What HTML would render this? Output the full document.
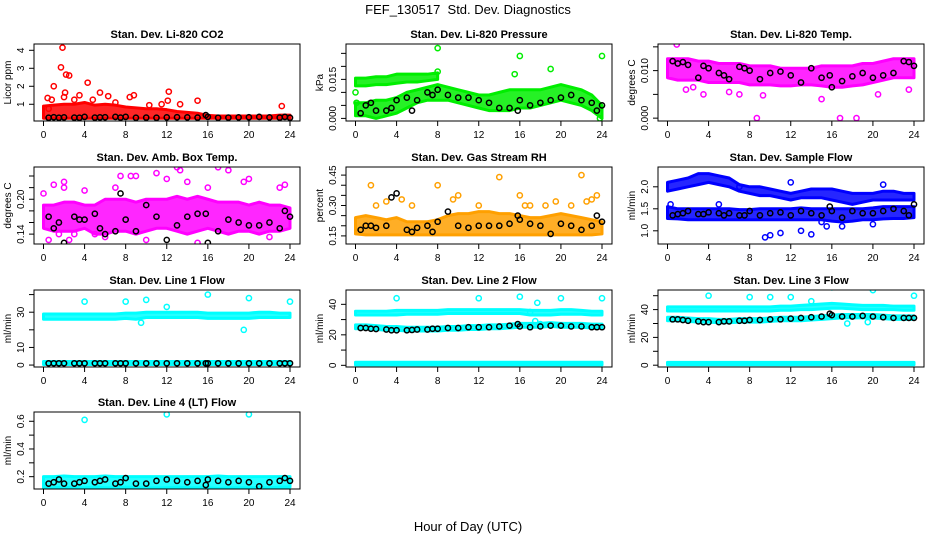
<!DOCTYPE html>
<html><head><meta charset="utf-8"><style>
html,body{margin:0;padding:0;background:#fff}
svg{display:block;font-family:"Liberation Sans",sans-serif}
</style></head><body>
<svg id="chart" width="936" height="540" viewBox="0 0 936 540">
<text x="468" y="14" text-anchor="middle" font-size="13">FEF_130517 &#160;Std. Dev. Diagnostics</text>
<text x="468" y="531" text-anchor="middle" font-size="13">Hour of Day (UTC)</text>
</svg>
<script>
// ---- data ----
const hours = [0,1,2,3,4,5,6,7,8,9,10,11,12,13,14,15,16,17,18,19,20,21,22,23,24];
const xTicks = [0,4,8,12,16,20,24];
const bx = [0.5,1,1.5,2,3,3.5,4,5,5.5,6,7,7.5,8,9,10,11,12,13,14,15,15.8,16,17,18,19,20,21,22,23,23.5,24];

const co2Lo = [0.22,0.22,0.22,0.22,0.22,0.22,0.22,0.22,0.22,0.22,0.22,0.22,0.22,0.22,0.22,0.22,0.22,0.22,0.22,0.22,0.22,0.22,0.22,0.22,0.22];
const co2Hi = [0.9,0.95,1.0,1.0,1.1,0.95,1.0,0.95,0.85,0.8,0.75,0.75,0.7,0.6,0.55,0.5,0.38,0.35,0.35,0.35,0.35,0.35,0.35,0.4,0.4];
const co2OutX = [0.4,0.8,1.0,1.7,1.85,2.0,2.1,2.2,2.5,3.5,4.3,4.8,5.5,6.3,8.4,8.8,11.5,12.2,12.1,13.3,15.0,23.2,0.5,3.0,7.0,10.3];
const co2OutY = [1.35,1.25,2.0,3.05,4.15,1.4,1.65,2.65,2.6,1.5,2.2,1.25,1.65,1.45,1.4,1.5,1.0,1.7,1.2,1.0,1.2,0.9,0.75,1.25,1.1,0.95];
const co2Blk = [0.25,0.28,0.25,0.27,0.26,0.25,0.3,0.26,0.27,0.28,0.3,0.26,0.3,0.25,0.26,0.25,0.27,0.28,0.27,0.26,0.4,0.3,0.25,0.26,0.27,0.28,0.3,0.27,0.26,0.3,0.25];

const presAX = [0,1,2,3,4,5,6,7,8];
const presALo = [0.0125,0.0125,0.013,0.013,0.0135,0.014,0.014,0.0145,0.015];
const presAHi = [0.0155,0.0155,0.016,0.016,0.017,0.017,0.017,0.017,0.0175];
const presBLo = [0.001,0.001,0.0,0.001,0.002,0.004,0.006,0.007,0.007,0.007,0.006,0.005,0.004,0.003,0.003,0.003,0.004,0.004,0.005,0.006,0.007,0.006,0.005,0.003,0.0];
const presBHi = [0.006,0.006,0.007,0.007,0.008,0.010,0.011,0.012,0.013,0.012,0.011,0.010,0.009,0.009,0.010,0.011,0.011,0.011,0.011,0.012,0.013,0.012,0.011,0.009,0.005];
const presOutX = [0,8,8,15.5,16,19,24,23.8,0.1];
const presOutY = [0.010,0.027,0.018,0.017,0.024,0.019,0.024,0.000,0.006];
const presBlk = [0.002,0.005,0.006,0.003,0.003,0.004,0.007,0.008,0.003,0.007,0.010,0.009,0.011,0.009,0.008,0.008,0.007,0.006,0.004,0.004,0.003,0.007,0.005,0.006,0.007,0.008,0.009,0.007,0.006,0.003,0.005];

const tempLo = [0.0085,0.008,0.008,0.008,0.0075,0.0075,0.0075,0.0075,0.007,0.007,0.007,0.0068,0.0068,0.007,0.007,0.0068,0.0065,0.0065,0.0068,0.007,0.0075,0.008,0.0085,0.0085,0.0085];
const tempHi = [0.0125,0.0125,0.0125,0.012,0.012,0.0115,0.0115,0.0115,0.011,0.011,0.011,0.0105,0.0105,0.0105,0.0105,0.011,0.011,0.011,0.011,0.0115,0.0115,0.012,0.0125,0.0125,0.0125];
const tempOutX = [0.9,8.7,16.8,18.4,1.8,3.5,7,15,20.5,23.5,2.5,6,9.3];
const tempOutY = [0.0155,0,0,0,0.006,0.005,0.005,0.004,0.005,0.006,0.0065,0.0055,0.0048];
const tempBlk = [0.012,0.0115,0.0118,0.0112,0.0085,0.011,0.0105,0.0095,0.009,0.0082,0.0108,0.0105,0.010,0.0082,0.0095,0.0098,0.009,0.0075,0.0105,0.0085,0.009,0.0065,0.0078,0.0088,0.0095,0.0085,0.009,0.0095,0.012,0.0118,0.011];

const ambLo = [0.15,0.145,0.145,0.145,0.15,0.14,0.14,0.145,0.145,0.14,0.145,0.15,0.15,0.145,0.14,0.145,0.15,0.145,0.14,0.145,0.145,0.14,0.145,0.145,0.15];
const ambHi = [0.19,0.19,0.195,0.195,0.19,0.19,0.2,0.2,0.2,0.195,0.2,0.2,0.2,0.205,0.2,0.205,0.2,0.195,0.195,0.195,0.19,0.195,0.19,0.19,0.185];
const ambOutX = [0,0.5,1,1.5,2,2.5,3,4,5,6,7,7.5,8.5,9,11,12,13,13.3,14,16,17,18,19.5,20,22,23,23.5,2,10,15];
const ambOutY = [0.21,0.13,0.225,0.14,0.23,0.13,0.14,0.215,0.14,0.135,0.22,0.24,0.24,0.24,0.245,0.235,0.255,0.25,0.23,0.22,0.255,0.25,0.23,0.235,0.135,0.22,0.225,0.22,0.13,0.125];
const ambBlk = [0.17,0.15,0.16,0.125,0.17,0.165,0.165,0.175,0.15,0.14,0.145,0.21,0.165,0.145,0.19,0.17,0.13,0.155,0.17,0.175,0.175,0.125,0.145,0.165,0.16,0.155,0.155,0.16,0.15,0.18,0.17];

const rhLo = [0.16,0.155,0.155,0.155,0.155,0.155,0.155,0.155,0.155,0.155,0.155,0.155,0.155,0.155,0.155,0.155,0.155,0.155,0.155,0.155,0.155,0.155,0.155,0.155,0.16];
const rhHi = [0.24,0.25,0.24,0.23,0.24,0.22,0.22,0.22,0.23,0.25,0.26,0.26,0.27,0.27,0.26,0.26,0.25,0.24,0.24,0.25,0.26,0.25,0.24,0.23,0.22];
const rhOutX = [1.5,2,3,4.5,5.5,8,9.5,10,12,14,16,16.5,17,18.5,19.5,21,22,22.5,23,23.5];
const rhOutY = [0.4,0.3,0.32,0.33,0.3,0.4,0.33,0.35,0.3,0.44,0.35,0.3,0.3,0.3,0.32,0.3,0.45,0.32,0.33,0.35];
const rhBlk = [0.18,0.2,0.2,0.19,0.2,0.34,0.36,0.18,0.17,0.19,0.2,0.17,0.22,0.27,0.2,0.19,0.2,0.2,0.2,0.21,0.25,0.23,0.21,0.2,0.16,0.21,0.2,0.18,0.2,0.25,0.22];

const flowALo = [1.9,1.95,2.0,2.05,2.1,2.05,2.0,1.9,1.85,1.8,1.8,1.75,1.7,1.75,1.75,1.75,1.7,1.65,1.6,1.65,1.7,1.7,1.7,1.7,1.7];
const flowAHi = [2.1,2.15,2.2,2.3,2.3,2.25,2.2,2.05,2.0,2.0,1.95,1.9,1.85,1.9,1.95,1.95,1.95,1.9,1.85,1.85,1.85,1.9,1.9,1.85,1.85];
const flowBLo = [1.28,1.27,1.25,1.25,1.25,1.25,1.25,1.25,1.25,1.25,1.25,1.25,1.25,1.25,1.25,1.25,1.22,1.2,1.22,1.25,1.25,1.27,1.28,1.28,1.3];
const flowBHi = [1.55,1.5,1.5,1.5,1.5,1.5,1.5,1.48,1.48,1.5,1.5,1.5,1.5,1.52,1.5,1.5,1.5,1.5,1.5,1.5,1.52,1.55,1.55,1.55,1.55];
const flowOutX = [5,9.5,10,11,12,13,14,15,15.5,17,20,21,0.3,7];
const flowOutY = [1.6,0.85,0.9,0.95,2.1,1.0,0.92,1.2,1.1,1.1,1.15,2.05,1.6,2.0];
const flowBlk = [1.35,1.38,1.4,1.45,1.38,1.38,1.42,1.4,1.35,1.4,1.35,1.35,1.45,1.35,1.4,1.42,1.35,1.45,1.4,1.35,1.55,1.45,1.3,1.45,1.4,1.4,1.45,1.5,1.45,1.35,1.6];

const l1ALo = [26,26,26,26,26,26,26,26,26.5,26,27,27,27,27,27,27,26.5,26.5,26.5,26.5,26.5,27,27,27,27];
const l1AHi = [29,29,29,29,29,29,29,29,29.5,29.5,30,30,30,30,30,30,29.5,29.5,29.5,29.5,29.5,30,30,29.5,29.5];
const l1BLo = [0.3,0.3,0.3,0.3,0.3,0.3,0.3,0.3,0.3,0.3,0.3,0.3,0.3,0.3,0.3,0.3,0.3,0.3,0.3,0.3,0.3,0.3,0.3,0.3,0.3];
const l1BHi = [2,2,2,2,2,2,2,2,2,2,2,2,2,2,2,2,2,2,2,2,2,2,2,2,2];
const l1OutX = [4,8,10,9.5,12,16,19.5,20,24];
const l1OutY = [36,36,37,24,33,40,20,38,36];
const l1Blk = [1,1,1,1,1,1,1,1,1,1,1,1,1,1,1,1,1,1,1,1,1,1,1,1,1,1,1,1,1,1,1];

const l2ALo = [33,33,33,33,33,33.5,33.5,33.5,33.5,34,34,34,34,34,34,34,34,33,33,33,33.5,33.5,33.5,33,33];
const l2AHi = [35.5,35.5,35.5,35.5,36,36,36,36,36,36.5,36.5,36.5,36.5,36.5,36.5,36.5,36.5,36,36,36,36.5,36.5,36,35.5,35.5];
const l2MLo = [24,24,23.5,23,23,22.5,22.5,22.5,22.5,23,23,23.5,23.5,24,24,24.5,25,25,25,25.5,25,25,25,24.5,24.5];
const l2MHi = [26.5,26.5,26,25.5,25.5,25,25,25,25,25.5,25.5,26,26,26.5,26.5,27,27.5,27.5,27.5,28,27.5,27.5,27.5,27,27];
const l2BLo = [0.3,0.3,0.3,0.3,0.3,0.3,0.3,0.3,0.3,0.3,0.3,0.3,0.3,0.3,0.3,0.3,0.3,0.3,0.3,0.3,0.3,0.3,0.3,0.3,0.3];
const l2BHi = [2,2,2,2,2,2,2,2,2,2,2,2,2,2,2,2,2,2,2,2,2,2,2,2,2];
const l2OutX = [4,12,16,20,24,17.5,17.7,18,17];
const l2OutY = [44,44,45,44,44,29,41,27,35];
const l2Blk = [24.5,24.5,24,23.8,23.5,23,23,23,23.2,23.5,23.5,24,24,24.5,24.5,25,25,25,25.5,26,27,25.5,25,25.5,26,26,25.5,25.5,25,25,25];

const l3ALo = [39,39,39,39,39,39,39,39,39,39,39,39.5,39.5,40,40,40.5,41,41,40.5,40,40,40,40,39.5,39.5];
const l3AHi = [42,42,42,42,42,42,42,42,42,42,42,42.5,42.5,43,43.5,44,44.5,44,43.5,43,43,43,42.5,42.5,42.5];
const l3MLo = [32,32,31.5,31,31,30.5,30.5,31,31,31,31.5,32,32,32,32.5,33,33.5,34,34,34,34,33.5,33,33,33];
const l3MHi = [34.5,34.5,34,33.5,33.5,33,33,33.5,33.5,33.5,34,34.5,34.5,34.5,35,35.5,36,36.5,36.5,36.5,36.5,36,35.5,35.5,35.5];
const l3BLo = [0.3,0.3,0.3,0.3,0.3,0.3,0.3,0.3,0.3,0.3,0.3,0.3,0.3,0.3,0.3,0.3,0.3,0.3,0.3,0.3,0.3,0.3,0.3,0.3,0.3];
const l3BHi = [2,2,2,2,2,2,2,2,2,2,2,2,2,2,2,2,2,2,2,2,2,2,2,2,2];
const l3OutX = [4,8,10,12,16,20,24,17.5,19.5,14];
const l3OutY = [50,49,49,49,56,54,50,30,31,46];
const l3Blk = [33,33,32.5,32,31.5,31,31,31,31.5,31.5,32,32,32.5,32.5,33,33,33.5,34,34.5,35,37,36,35,35,35.5,35,34.5,34,34,34,34];

const l4Lo = [0.12,0.12,0.125,0.12,0.12,0.125,0.12,0.12,0.125,0.12,0.12,0.12,0.12,0.125,0.12,0.12,0.12,0.115,0.12,0.12,0.12,0.12,0.12,0.125,0.125];
const l4Hi = [0.2,0.2,0.205,0.2,0.2,0.2,0.205,0.2,0.2,0.2,0.2,0.2,0.2,0.2,0.2,0.2,0.2,0.205,0.2,0.2,0.2,0.2,0.2,0.2,0.2];
const l4OutX = [4,12,20];
const l4OutY = [0.61,0.65,0.65];
const l4Blk = [0.15,0.16,0.18,0.15,0.15,0.16,0.17,0.16,0.17,0.18,0.15,0.16,0.19,0.15,0.15,0.17,0.18,0.17,0.16,0.17,0.14,0.18,0.17,0.16,0.17,0.16,0.13,0.16,0.17,0.19,0.17];

// ---- layout ----
const NS = "http://www.w3.org/2000/svg";
const svg = document.getElementById('chart');
const colLeft = [34,346,658], rowTop = [44,167,290,412], W = 266, H = 77;
function mk(tag, attrs, parent){ const e = document.createElementNS(NS, tag); for (const k in attrs) e.setAttribute(k, attrs[k]); parent.appendChild(e); return e; }

const panels = [
 {id:'co2',c:0,r:0,title:'Stan. Dev. Li-820 CO2',ylab:'Licor ppm',dom:[0.07,4.35],ticks:[1,2,3,4],labs:['1','2','3','4'],col:'#ff0000',
  bands:[[hours,co2Lo,co2Hi]],ox:co2OutX,oy:co2OutY,blk:co2Blk},
 {id:'pressure',c:1,r:0,title:'Stan. Dev. Li-820 Pressure',ylab:'kPa',dom:[-0.001,0.0286],ticks:[0,0.005,0.01,0.015,0.02,0.025],labs:['0.000','','','0.015','',''],col:'#00ee00',
  bands:[[presAX,presALo,presAHi],[hours,presBLo,presBHi]],ox:presOutX,oy:presOutY,blk:presBlk},
 {id:'li820-temp',c:2,r:0,title:'Stan. Dev. Li-820 Temp.',ylab:'degrees C',dom:[-0.0006,0.0156],ticks:[0,0.005,0.01,0.015],labs:['0.000','','0.010',''],col:'#ff00ff',
  bands:[[hours,tempLo,tempHi]],ox:tempOutX,oy:tempOutY,blk:tempBlk},
 {id:'amb-box-temp',c:0,r:1,title:'Stan. Dev. Amb. Box Temp.',ylab:'degrees C',dom:[0.123,0.2555],ticks:[0.14,0.16,0.18,0.2,0.22,0.24],labs:['0.14','','','0.20','',''],col:'#ff00ff',
  bands:[[hours,ambLo,ambHi]],ox:ambOutX,oy:ambOutY,blk:ambBlk},
 {id:'gas-rh',c:1,r:1,title:'Stan. Dev. Gas Stream RH',ylab:'percent',dom:[0.11,0.49],ticks:[0.15,0.2,0.25,0.3,0.35,0.4,0.45],labs:['0.15','','','0.30','','','0.45'],col:'#ffa000',
  bands:[[hours,rhLo,rhHi]],ox:rhOutX,oy:rhOutY,blk:rhBlk},
 {id:'sample-flow',c:2,r:1,title:'Stan. Dev. Sample Flow',ylab:'ml/min',dom:[0.70,2.45],ticks:[1,1.5,2],labs:['1.0','1.5','2.0'],col:'#0000ff',
  bands:[[hours,flowALo,flowAHi],[hours,flowBLo,flowBHi]],ox:flowOutX,oy:flowOutY,blk:flowBlk},
 {id:'line1-flow',c:0,r:2,title:'Stan. Dev. Line 1 Flow',ylab:'ml/min',dom:[-1.1,42.6],ticks:[0,10,20,30,40],labs:['0','10','','30',''],col:'#00ffff',
  bands:[[hours,l1ALo,l1AHi],[hours,l1BLo,l1BHi]],ox:l1OutX,oy:l1OutY,blk:l1Blk},
 {id:'line2-flow',c:1,r:2,title:'Stan. Dev. Line 2 Flow',ylab:'ml/min',dom:[-1.1,49.4],ticks:[0,10,20,30,40],labs:['0','','20','','40'],col:'#00ffff',
  bands:[[hours,l2ALo,l2AHi],[hours,l2MLo,l2MHi],[hours,l2BLo,l2BHi]],ox:l2OutX,oy:l2OutY,blk:l2Blk},
 {id:'line3-flow',c:2,r:2,title:'Stan. Dev. Line 3 Flow',ylab:'ml/min',dom:[-1.3,54.1],ticks:[0,10,20,30,40,50],labs:['0','','20','','40',''],col:'#00ffff',
  bands:[[hours,l3ALo,l3AHi],[hours,l3MLo,l3MHi],[hours,l3BLo,l3BHi]],ox:l3OutX,oy:l3OutY,blk:l3Blk},
 {id:'line4-flow',c:0,r:3,title:'Stan. Dev. Line 4 (LT) Flow',ylab:'ml/min',dom:[0.111,0.667],ticks:[0.2,0.3,0.4,0.5,0.6],labs:['0.2','','0.4','','0.6'],col:'#00ffff',
  bands:[[hours,l4Lo,l4Hi]],ox:l4OutX,oy:l4OutY,blk:l4Blk}
];

panels.forEach(p => {
  const L = colLeft[p.c], T = rowTop[p.r];
  const xs = v => L + 9.5 + v * 246.5 / 24;
  const ys = v => T + H * (p.dom[1] - v) / (p.dom[1] - p.dom[0]);
  const g = mk('g', {}, svg);
  
  
  const cp = mk('clipPath', {id: 'clip-' + p.id}, g);
  mk('rect', {x: L, y: T, width: W, height: H}, cp);
  const t = mk('text', {x: L + W / 2, y: T - 6, 'text-anchor': 'middle', 'font-size': 11, 'font-weight': 'bold'}, g);
  t.textContent = p.title;
  
  
  const yl = mk('text', {x: L - 23, y: T + H / 2, 'text-anchor': 'middle', 'font-size': 10, transform: `rotate(-90 ${L - 23} ${T + H / 2})`}, g);
  yl.textContent = p.ylab;
  
  
  const plot = mk('g', {'clip-path': `url(#clip-${p.id})`}, g);
  
  
  p.bands.forEach(b => {
    const [bxs, lo, hi] = b;
    let pts = bxs.map((x, i) => xs(x) + ',' + ys(hi[i]));
    pts = pts.concat(bxs.map((x, i) => xs(x) + ',' + ys(lo[i])).reverse());
    const poly = mk('polygon', {points: pts.join(' '), fill: p.col, 'fill-opacity': 0.85, stroke: p.col, 'stroke-width': 3, 'stroke-linejoin': 'round'}, plot);
    
    
  });
  p.ox.forEach((x, i) => {
    const c = mk('circle', {cx: xs(x), cy: ys(p.oy[i]), r: 2.6, fill: 'none', stroke: p.col, 'stroke-width': 1.5}, plot);
    
    
  });
  p.blk.forEach((v, i) => {
    const c = mk('circle', {cx: xs(bx[i]), cy: ys(v), r: 2.6, fill: 'none', stroke: '#000', 'stroke-width': 1.5}, plot);
    
    
  });
  const box = mk('rect', {x: L, y: T, width: W, height: H, fill: 'none', stroke: '#000', 'stroke-width': 1}, g);
  
  
  mk('line', {x1: xs(0), x2: xs(24), y1: T + H, y2: T + H, stroke: '#000'}, g);
  xTicks.forEach(v => {
    mk('line', {x1: xs(v), x2: xs(v), y1: T + H, y2: T + H + 5, stroke: '#000'}, g);
    const tl = mk('text', {x: xs(v), y: T + H + 17, 'text-anchor': 'middle', 'font-size': 10}, g);
    tl.textContent = v;
    
    
  });
  const yt0 = ys(p.ticks[0]), yt1 = ys(p.ticks[p.ticks.length - 1]);
  mk('line', {x1: L, x2: L, y1: yt0, y2: yt1, stroke: '#000'}, g);
  p.ticks.forEach((v, i) => {
    const yy = ys(v);
    mk('line', {x1: L - 5, x2: L, y1: yy, y2: yy, stroke: '#000'}, g);
    if (p.labs[i]) {
      const tl = mk('text', {x: L - 10, y: yy, 'text-anchor': 'middle', 'font-size': 10, transform: `rotate(-90 ${L - 10} ${yy})`}, g);
      tl.textContent = p.labs[i];
      
      
    }
  });
});
</script>
</body></html>
